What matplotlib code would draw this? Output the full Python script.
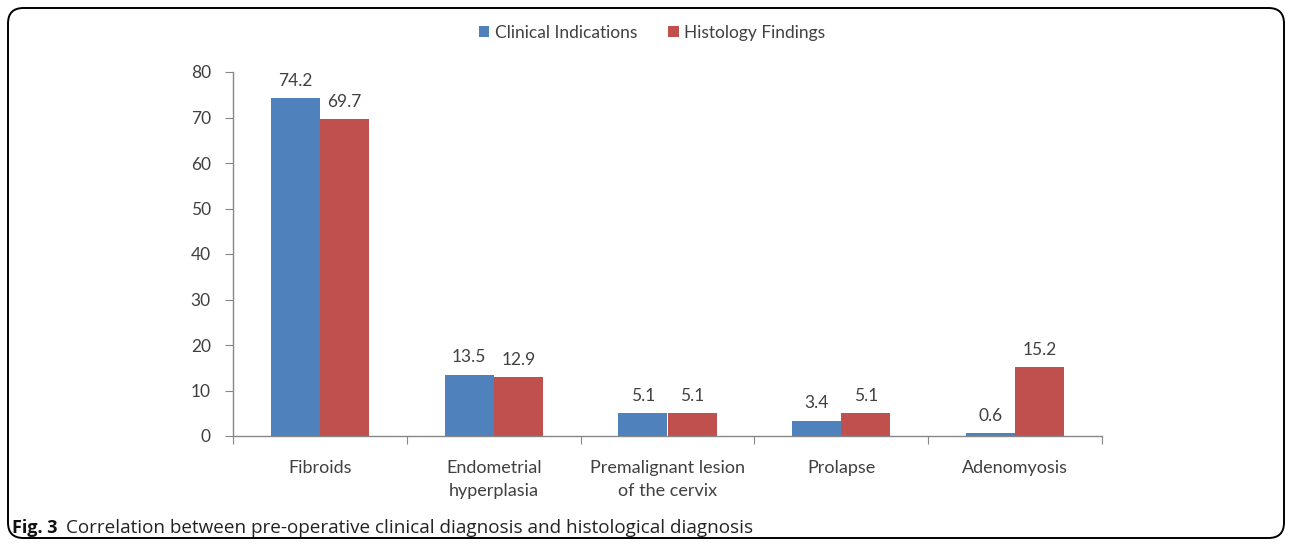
import numpy as np
import matplotlib
matplotlib.use("Agg")
import matplotlib.pyplot as plt
from matplotlib.patches import FancyBboxPatch

categories = ["Fibroids", "Endometrial\nhyperplasia", "Premalignant lesion\nof the cervix",
              "Prolapse", "Adenomyosis"]
clinical = [74.2, 13.5, 5.1, 3.4, 0.6]
histology = [69.7, 12.9, 5.1, 5.1, 15.2]
series_names = ["Clinical Indications", "Histology Findings"]
yticks = [0, 10, 20, 30, 40, 50, 60, 70, 80]

blue = "#4F81BD"
red = "#C0504D"
txt = "#404040"
plt.rcParams['font.family'] = ['Lato', 'DejaVu Sans']

fig = plt.figure(figsize=(12.9, 5.46), dpi=100)
ax = fig.add_axes([233/1290, 1 - 436/546, (1102-233)/1290, (436-72)/546])

x = np.arange(len(categories))
w = 0.283
b1 = ax.bar(x - w/2, clinical, w, color=blue, label=series_names[0])
b2 = ax.bar(x + w/2, histology, w, color=red, label=series_names[1])

for bars, vals in ((b1, clinical), (b2, histology)):
    for r, v in zip(bars, vals):
        ax.text(r.get_x() + r.get_width()/2, v + 2.0, f"{v:.1f}", ha="center", va="bottom",
                fontsize=12.5, color=txt)

ax.set_xlim(-0.5, len(categories) - 0.5)
ax.set_ylim(0, 80)
ax.set_yticks(yticks)
ax.set_yticklabels([str(t) for t in yticks], fontsize=12.5, color=txt)
ax.set_xticks(np.arange(len(categories) + 1) - 0.5)
ax.set_xticklabels([])
ax.set_xticks(x, minor=True)
ax.set_xticklabels(categories, minor=True, fontsize=13, color=txt, linespacing=1.55)
ax.tick_params(axis="x", which="minor", length=0, pad=17)
ax.tick_params(axis="x", which="major", length=6, color="#868686", direction="out")
ax.tick_params(axis="y", length=6, color="#868686", direction="out", pad=10)
for s in ("top", "right"):
    ax.spines[s].set_visible(False)
for s in ("left", "bottom"):
    ax.spines[s].set_color("#868686")
    ax.spines[s].set_linewidth(1)

fig.legend(handles=[b1, b2], labels=series_names, loc="center", bbox_to_anchor=(652/1290, 1 - 33/546),
           ncol=2, frameon=False, fontsize=12.5, handlelength=0.6, handleheight=0.6,
           handletextpad=0.3, columnspacing=1.8, labelcolor=txt)

border = FancyBboxPatch((8/1290, 8/546), 1276/1290, 530/546, transform=fig.transFigure,
                        boxstyle="round,pad=0,rounding_size=0.012", fill=False,
                        edgecolor="black", linewidth=1.4, mutation_aspect=1290/546)
fig.patches.append(border)

fig.text(12/1290, 1 - 528/546, "Fig. 3", fontsize=13, fontweight="bold",
         family="Open Sans", va="center", ha="left", color="#111111")
fig.text(66/1290, 1 - 528/546, "Correlation between pre-operative clinical diagnosis and histological diagnosis",
         fontsize=13.6, family="Open Sans", va="center", ha="left", color="#222222")

fig.savefig("out.png", dpi=100)
